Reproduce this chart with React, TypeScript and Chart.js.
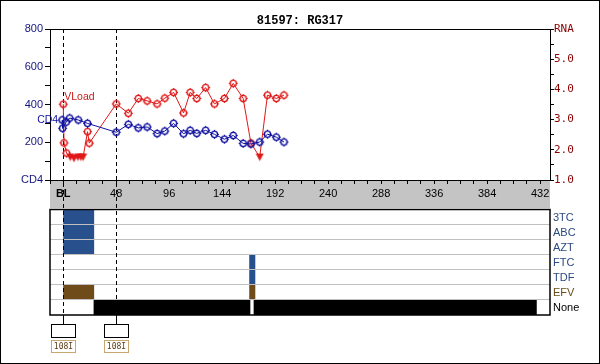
import React, { useEffect, useRef } from 'react';
import { Chart, registerables } from 'chart.js';
Chart.register(...registerables);

// ---- data ----
const titleText = '81597: RG317';
const cd4Weeks = [-1, -0.6, 2.7, 5.8, 13.6, 22, 48, 59, 68, 76, 85, 92, 100, 109, 115, 121, 129, 137, 146, 154, 163, 170, 178, 185, 193, 200];
const cd4Values = [318, 274, 307, 328, 318, 300, 253, 295, 276, 281, 246, 259, 300, 245, 263, 247, 263, 242, 216, 236, 194, 191, 201, 243, 227, 201];
const vlWeeks = [0, 0.7, 3, 6.3, 9.7, 13.3, 16, 18, 22, 23.6, 48, 59, 68, 76, 85, 92, 100, 109, 115, 121, 129, 137, 146, 154, 163, 170, 178, 185, 193, 200];
const vlLog = [3.51, 2.23, 1.89, 1.76, 1.72, 1.76, 1.76, 1.76, 2.6, 2.22, 3.52, 3.21, 3.7, 3.62, 3.52, 3.71, 3.9, 3.22, 3.9, 3.7, 4.06, 3.52, 3.7, 4.2, 3.7, 2.22, 1.76, 3.81, 3.7, 3.81];
const vlBelowLimit = [false, false, false, true, true, true, true, true, false, false, false, false, false, false, false, false, false, false, false, false, false, false, false, false, false, false, true, false, false, false];
const drugNames = ['3TC', 'ABC', 'AZT', 'FTC', 'TDF', 'EFV', 'None'];
const drugPeriods: number[][][] = [
  [[0, 28]],
  [[0, 28]],
  [[0, 28]],
  [[168.5, 174]],
  [[168.5, 174]],
  [[0, 28], [168.5, 174]],
  [[27.5, 169.5], [172.5, 429]],
];
const mutationWeeks = [0, 48];
const mutationLabels = ['108I', '108I'];

// ---- styles ----
const drugFill = ['#28508c', '#28508c', '#28508c', '#28508c', '#28508c', '#6e4b19', '#000000'];
const drugText = ['#2a4a80', '#2a4a80', '#2a4a80', '#2a4a80', '#2a4a80', '#6b4c1a', '#000000'];
const CD4_COLOR = '#1010a0';
const VL_COLOR = '#e01818';
const BAND_COLOR = '#c4c4c4';
const SANS = '"Liberation Sans", Arial, sans-serif';
const MONO = '"DejaVu Sans Mono", monospace';

function makeMarker(color: string) {
  const c = document.createElement('canvas');
  c.width = 11; c.height = 11;
  const g = c.getContext('2d')!;
  g.strokeStyle = color; g.lineWidth = 1.4;
  g.beginPath(); g.arc(5.5, 5.5, 3.1, 0, Math.PI * 2); g.stroke();
  g.lineWidth = 1.2;
  g.beginPath();
  g.moveTo(5.5, 1); g.lineTo(5.5, 2.6);
  g.moveTo(5.5, 8.4); g.lineTo(5.5, 10);
  g.moveTo(1, 5.5); g.lineTo(2.6, 5.5);
  g.moveTo(8.4, 5.5); g.lineTo(10, 5.5);
  g.stroke();
  return c;
}
function makeTriangle(color: string) {
  const c = document.createElement('canvas');
  c.width = 9; c.height = 9;
  const g = c.getContext('2d')!;
  g.fillStyle = color;
  g.beginPath(); g.moveTo(0.5, 1); g.lineTo(8.5, 1); g.lineTo(4.5, 8.5); g.closePath(); g.fill();
  return c;
}

const panelPlugin = {
  id: 'panelPlugin',
  beforeDatasetsDraw(chart: any) {
    const ctx = chart.ctx;
    const xs = chart.scales.x;
    const ys = chart.scales.y;
    const ys2 = chart.scales.y2;
    const { left, right, top, bottom } = chart.chartArea;
    ctx.save();
    // white page behind everything drawn so far
    ctx.globalCompositeOperation = 'destination-over';
    ctx.fillStyle = '#ffffff';
    ctx.fillRect(0, 0, chart.width, chart.height);
    ctx.globalCompositeOperation = 'source-over';
    // grey band of the x axis, then the axis ticks and labels again on top of it
    ctx.fillStyle = BAND_COLOR;
    ctx.fillRect(left, bottom, right - left, 28);
    ctx.restore();
    xs.drawGrid(chart.chartArea);
    xs.drawBorder();
    xs.drawLabels(chart.chartArea);
    ctx.save();
    // title
    ctx.fillStyle = '#000';
    ctx.font = 'bold 12px "Liberation Mono", monospace';
    ctx.textAlign = 'center';
    ctx.textBaseline = 'middle';
    ctx.fillText(titleText, 300, 20.5);
    // plot top border
    ctx.strokeStyle = '#000';
    ctx.lineWidth = 1;
    ctx.beginPath();
    ctx.moveTo(left, top + 0.5); ctx.lineTo(right, top + 0.5);
    ctx.stroke();
    // drug panel
    const pTop = 210, rowH = 15;
    drugNames.forEach((name, i) => {
      ctx.fillStyle = drugFill[i];
      drugPeriods[i].forEach(([a, b]) => {
        const x0 = xs.getPixelForValue(a), x1 = xs.getPixelForValue(b);
        ctx.fillRect(x0, pTop + i * rowH, x1 - x0, rowH);
      });
    });
    ctx.strokeStyle = '#c0c0c0';
    for (let i = 1; i < drugNames.length; i++) {
      const y = pTop + i * rowH - 0.5;
      ctx.beginPath(); ctx.moveTo(left, y); ctx.lineTo(right, y); ctx.stroke();
    }
    ctx.strokeStyle = '#000';
    ctx.lineWidth = 1.5;
    ctx.strokeRect(left, pTop - 0.5, right - left, rowH * drugNames.length + 0.5);
    ctx.lineWidth = 1;
    ctx.font = '11px ' + SANS;
    ctx.textAlign = 'left';
    ctx.textBaseline = 'middle';
    drugNames.forEach((name, i) => {
      ctx.fillStyle = drugText[i];
      ctx.fillText(name, right + 3, pTop + i * rowH + rowH / 2);
    });
    // dashed lines and mutation boxes
    const panelBottom = pTop + rowH * drugNames.length;
    mutationWeeks.forEach((w, i) => {
      const px = Math.round(xs.getPixelForValue(w)) + 0.5;
      ctx.strokeStyle = '#000';
      ctx.setLineDash([4, 3]);
      ctx.beginPath(); ctx.moveTo(px, top); ctx.lineTo(px, panelBottom); ctx.stroke();
      ctx.setLineDash([]);
      ctx.beginPath(); ctx.moveTo(px, panelBottom); ctx.lineTo(px, 324); ctx.stroke();
      ctx.fillStyle = '#fff';
      ctx.fillRect(px - 12, 324.5, 24, 13);
      ctx.strokeRect(px - 12, 324.5, 24, 13);
      ctx.strokeStyle = '#c8a870';
      ctx.fillRect(px - 12, 340.5, 24, 12);
      ctx.strokeRect(px - 12, 340.5, 24, 12);
      ctx.fillStyle = '#5a3a10';
      ctx.font = '8px ' + MONO;
      ctx.textAlign = 'center';
      ctx.textBaseline = 'middle';
      ctx.fillText(mutationLabels[i], px, 347);
    });
    // series labels
    ctx.font = '10.5px ' + SANS;
    ctx.textBaseline = 'middle';
    ctx.fillStyle = CD4_COLOR;
    ctx.textAlign = 'right';
    ctx.fillText('CD4', xs.getPixelForValue(cd4Weeks[0]) - 4, ys.getPixelForValue(cd4Values[0]));
    ctx.fillStyle = '#c81c1c';
    ctx.textAlign = 'left';
    ctx.fillText('VLoad', xs.getPixelForValue(vlWeeks[0]) + 1, ys2.getPixelForValue(vlLog[0]) - 7);
    // outer frame
    ctx.strokeStyle = '#000';
    ctx.lineWidth = 1;
    ctx.strokeRect(0.5, 0.5, chart.width - 1, chart.height - 1);
    ctx.restore();
  },
};

export default function App() {
  const ref = useRef<HTMLCanvasElement | null>(null);
  useEffect(() => {
    if (!ref.current) return;
    const cd4Marker = makeMarker(CD4_COLOR);
    const vlMarker = makeMarker(VL_COLOR);
    const vlTri = makeTriangle(VL_COLOR);
    const chart = new Chart(ref.current, {
      type: 'line',
      data: {
        datasets: [
          {
            label: 'CD4',
            data: cd4Weeks.map((w, i) => ({ x: w, y: cd4Values[i] })),
            yAxisID: 'y',
            borderColor: CD4_COLOR,
            borderWidth: 1,
            pointStyle: cd4Marker as any,
            pointRadius: 4,
            tension: 0,
          },
          {
            label: 'VLoad',
            data: vlWeeks.map((w, i) => ({ x: w, y: vlLog[i] })),
            yAxisID: 'y2',
            borderColor: VL_COLOR,
            borderWidth: 1,
            pointStyle: vlBelowLimit.map((b) => (b ? vlTri : vlMarker)) as any,
            pointRadius: 4,
            tension: 0,
          },
        ],
      },
      options: {
        responsive: false,
        animation: false,
        devicePixelRatio: 1,
        layout: { padding: { top: 29, left: 0, right: 0, bottom: 156 } },
        plugins: { legend: { display: false }, tooltip: { enabled: false }, title: { display: false } },
        scales: {
          x: {
            type: 'linear',
            position: 'bottom',
            min: -12,
            max: 441,
            afterFit: (s: any) => { s.height = 28; },
            grid: { drawOnChartArea: false, drawTicks: true, tickLength: 4, tickColor: '#000' },
            border: { display: true, color: '#000', width: 1 },
            ticks: {
              stepSize: 12,
              autoSkip: false,
              maxRotation: 0,
              includeBounds: false,
              padding: 3,
              color: '#000',
              font: (c: any) => ({ family: SANS, size: 11, weight: c.tick && c.tick.value === 0 ? 'bold' : 'normal' }),
              callback: (v: any) => (v === 0 ? 'BL' : v > 0 && v % 48 === 0 ? String(v) : ''),
            },
          },
          y: {
            type: 'linear',
            position: 'left',
            min: 0,
            max: 800,
            afterFit: (s: any) => { s.width = 50; },
            grid: { drawOnChartArea: false, drawTicks: true, tickLength: 5, tickColor: '#000' },
            border: { display: true, color: '#000', width: 1 },
            ticks: {
              stepSize: 100,
              autoSkip: false,
              padding: 2,
              color: '#141482',
              font: { family: SANS, size: 11 },
              callback: (v: any) => (v === 0 ? 'CD4' : v % 200 === 0 ? String(v) : ''),
            },
          },
          y2: {
            type: 'linear',
            position: 'right',
            min: 1,
            max: 6,
            afterFit: (s: any) => { s.width = 50; },
            grid: { drawOnChartArea: false, drawTicks: true, tickLength: 4, tickColor: '#000' },
            border: { display: true, color: '#000', width: 1 },
            ticks: {
              stepSize: 0.5,
              autoSkip: false,
              padding: 0,
              color: '#8b0000',
              font: { family: MONO, size: 11 },
              callback: (v: any) => (v === 6 ? 'RNA' : v % 1 === 0 ? Number(v).toFixed(1) : ''),
            },
          },
        },
      },
      plugins: [panelPlugin],
    });
    return () => chart.destroy();
  }, []);
  return (
    <div style={{ position: 'absolute', left: 0, top: 0, width: 600, height: 364 }}>
      <canvas ref={ref} width={600} height={364} />
    </div>
  );
}
